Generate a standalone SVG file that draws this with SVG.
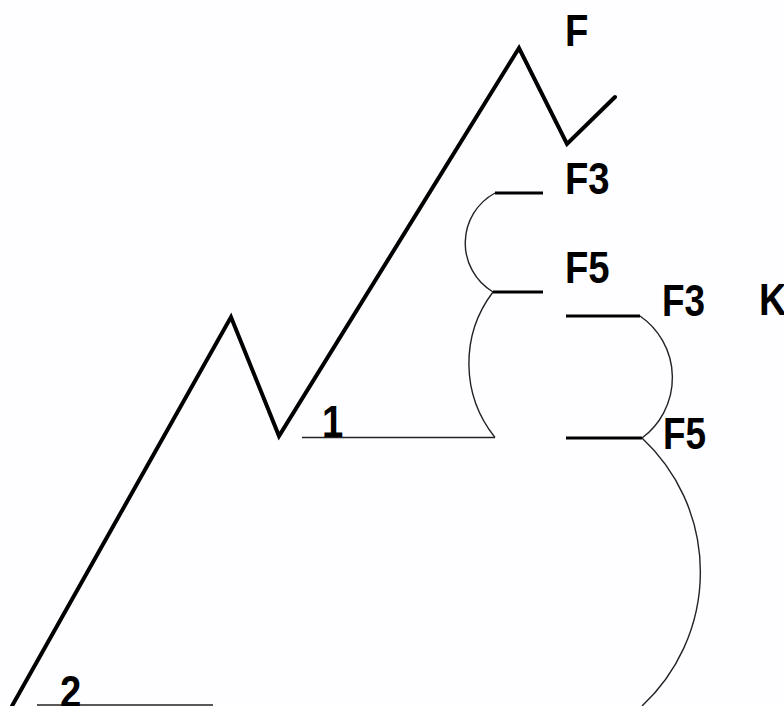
<svg xmlns="http://www.w3.org/2000/svg" width="784" height="706" viewBox="0 0 784 706">
<style>
.bg{fill:#fefdff}
.zig{fill:none;stroke:#000;stroke-width:4;stroke-linejoin:miter;stroke-linecap:round}
.bar{fill:none;stroke:#000;stroke-width:3}
.thin{fill:none;stroke:#222;stroke-width:1.5}
.arc{fill:none;stroke:#222;stroke-width:1.4}
.lbl{font-family:"Liberation Sans",Arial,sans-serif;font-weight:bold;font-size:45px;fill:#000}
</style>
<rect class="bg" x="0" y="0" width="784" height="706"/>
<g id="connectors">
<path id="zigzag" class="zig" d="M 12 706 L 231 317 L 279 436 L 519 48 L 567 144 L 615 97"/>
<line class="thin" x1="302" y1="437.5" x2="495" y2="437.5"/>
<line class="thin" x1="37" y1="705" x2="213" y2="705"/>
<path class="arc" d="M 495 193 A 57 57 0 0 0 493 292"/>
<path class="arc" d="M 493 292 A 118 118 0 0 0 495 437.5"/>
<path class="arc" d="M 640 316 A 75 75 0 0 1 642 438"/>
<path class="arc" d="M 642 438 A 183 183 0 0 1 642 706"/>
</g>
<g id="node-F"><text class="lbl" transform="translate(565,46) scale(0.85,1)">F</text></g>
<g id="node-F3a"><line class="bar" x1="495" y1="193" x2="543" y2="193"/><text class="lbl" transform="translate(565,194) scale(0.85,1)">F3</text></g>
<g id="node-F5a"><line class="bar" x1="493" y1="292" x2="543" y2="292"/><text class="lbl" transform="translate(565,283) scale(0.85,1)">F5</text></g>
<g id="node-F3b"><line class="bar" x1="566" y1="316" x2="640" y2="316"/><text class="lbl" transform="translate(662,316) scale(0.82,1)">F3</text></g>
<g id="node-F5b"><line class="bar" x1="566" y1="438" x2="642" y2="438"/><text class="lbl" transform="translate(663,449) scale(0.82,1)">F5</text></g>
<g id="node-K"><text class="lbl" transform="translate(759,315) scale(0.85,1)">K</text></g>
<g id="node-1"><text class="lbl" transform="translate(322,437) scale(0.85,1)">1</text></g>
<g id="node-2"><text class="lbl" transform="translate(60,707) scale(0.85,1)">2</text></g>
</svg>
